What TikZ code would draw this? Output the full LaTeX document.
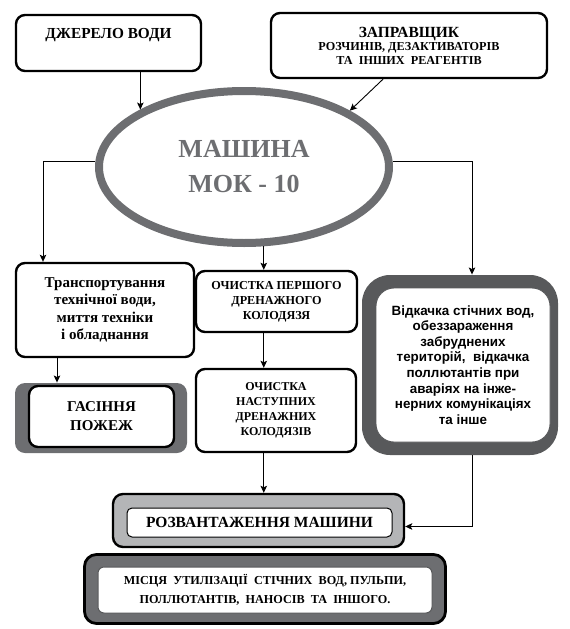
\documentclass[tikz,border=0pt]{standalone}
\usepackage{fontspec}
\setmainfont{Liberation Serif}
\newfontfamily\pumpfont{Liberation Sans}
\usepackage{xcolor}
\usetikzlibrary{shapes}
\usetikzlibrary{arrows.meta}
\definecolor{mokgray}{HTML}{6D6E71}
\definecolor{darkfill}{HTML}{58595B}
\definecolor{lightfill}{HTML}{B4B5B7}
\tikzset{
	main box/.style={draw,fill=white,rounded corners=9pt,line width=2.4pt,align=center,font=\bfseries},
	back box/.style={fill=#1,rounded corners=10pt},
	inner box/.style={draw,fill=white,line width=1pt,rounded corners=6pt,align=center}
}

\begin{document}
\begin{tikzpicture}[x=1pt,y=-1pt,->,>={Stealth[length=7pt,width=6.5pt,inset=1.5pt]},line width=0.9pt]
	\useasboundingbox (0,0) rectangle (570,629);
	\node [main box,minimum width=185pt,minimum height=56pt,text height=10pt,text depth=20pt,font=\bfseries\fontsize{15.3}{17}\selectfont] (src) at (108.5,43) {ДЖЕРЕЛО ВОДИ};
	\node [main box,minimum width=276pt,minimum height=65pt,font=\bfseries\fontsize{12.2}{13.5}\selectfont] (reag) at (409,45.5) {{\fontsize{15.5}{14}\selectfont ЗАПРАВЩИК}\\ РОЗЧИНІВ, ДЕЗАКТИВАТОРІВ\\ ТА~ ІНШИХ~ РЕАГЕНТІВ};
	\node [ellipse,draw=mokgray,line width=8pt,minimum width=290pt,minimum height=152pt,inner sep=0pt,text=mokgray,align=center,font=\bfseries\fontsize{26}{35}\selectfont] (mok) at (244,167) {МАШИНА\\ МОК - 10};
	\node [main box,minimum width=178pt,minimum height=94pt,font=\bfseries\fontsize{15}{17.3}\selectfont] (tr) at (105,310) {Транспортування\\ технічної води,\\ миття техніки\\ і обладнання};
	\node [back box=mokgray,minimum width=172pt,minimum height=70pt] (firebg) at (101,418) {};
	\node [main box,minimum width=145pt,minimum height=61pt,font=\bfseries\fontsize{15}{19}\selectfont] (fire) at (101.5,416.5) {ГАСІННЯ\\ ПОЖЕЖ};
	\node [main box,minimum width=161pt,minimum height=61pt,font=\bfseries\fontsize{12.2}{15}\selectfont] (cl1) at (276.5,301.5) {ОЧИСТКА ПЕРШОГО\\ ДРЕНАЖНОГО\\ КОЛОДЯЗЯ};
	\node [main box,minimum width=160pt,minimum height=83pt,font=\bfseries\fontsize{12}{15}\selectfont] (cl2) at (276,410.5) {ОЧИСТКА\\ НАСТУПНИХ\\ ДРЕНАЖНИХ\\ КОЛОДЯЗІВ};
	\node [back box=darkfill,rounded corners=28pt,minimum width=196pt,minimum height=180pt] (pumpbg) at (460,365) {};
	\node [fill=white,draw=darkfill,rounded corners=18pt,minimum width=174pt,minimum height=154pt,align=center,font=\pumpfont\bfseries\fontsize{13.4}{15.6}\selectfont] (pump) at (463,365) {Відкачка стічних вод,\\ обеззараження\\ забруднених\\ територій,~ відкачка\\ поллютантів при\\ аваріях на інже-\\ нерних комунікаціях\\ та інше};
	\node [back box=lightfill,draw,line width=2.4pt,minimum width=291pt,minimum height=53pt] (unloadbg) at (258.5,520.5) {};
	\node [inner box,rounded corners=5pt,minimum width=265pt,minimum height=29pt,font=\bfseries\fontsize{15.5}{16}\selectfont] (unload) at (259.5,522.5) {РОЗВАНТАЖЕННЯ МАШИНИ};
	\node [back box=mokgray,draw,line width=2.8pt,rounded corners=12pt,minimum width=361pt,minimum height=69pt] (dispbg) at (265,589) {};
	\node [inner box,draw=darkfill,minimum width=334pt,minimum height=46pt,font=\bfseries\fontsize{12.2}{19}\selectfont] (disp) at (265,590) {МІСЦЯ~ УТИЛІЗАЦІЇ~ СТІЧНИХ~ ВОД, ПУЛЬПИ,\\ ПОЛЛЮТАНТІВ,~ НАНОСІВ~ ТА~ ІНШОГО.};

	\draw (mok.151 |- src.south) -- (mok.151);
	\draw ([xshift=-26pt]reag.south) -- (mok.28);
	\draw (mok.178) -| ([xshift=-62pt]tr.north);
	\draw (mok.2) -| ([xshift=12pt]pumpbg.north);
	\draw (mok.-76) -- (mok.-76 |- cl1.north);
	\draw (mok.-76 |- cl1.south) -- (mok.-76 |- cl2.north);
	\draw (mok.-76 |- cl2.south) -- (mok.-76 |- unloadbg.north);
	\draw ([xshift=-48pt]tr.south) -- ([xshift=-48pt]tr.south |- firebg.north);
	\draw ([xshift=12pt]pumpbg.south) |- ([yshift=-6pt]unloadbg.east);
\end{tikzpicture}
\end{document}
